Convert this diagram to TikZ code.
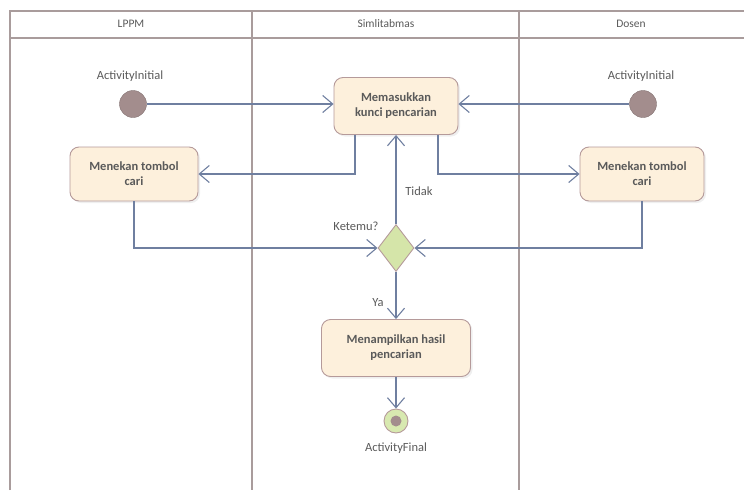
\documentclass[tikz,border=0pt]{standalone}
\usepackage{fontspec}
\setmainfont{Carlito}
\usetikzlibrary{arrows.meta,shapes.geometric,shadows}
\definecolor{lanecol}{HTML}{A99C9C}
\definecolor{flowcol}{HTML}{6F7FA0}
\definecolor{boxfill}{HTML}{FDF0DC}
\definecolor{boxline}{HTML}{B59A9A}
\definecolor{txtcol}{HTML}{5A5A5A}
\definecolor{dotfill}{HTML}{A38D8D}
\definecolor{decfill}{HTML}{D5E5A9}
\definecolor{finfill}{HTML}{D8E9B0}
\tikzset{
  lane/.style={draw=lanecol,line width=2.2pt},
  activity/.style={draw=boxline,fill=boxfill,rounded corners=9pt,line width=0.9pt,
    text=txtcol,font=\fontsize{12.5}{15}\selectfont\bfseries,align=center,
    drop shadow={shadow xshift=2pt,shadow yshift=-2pt,fill=black!12}},
  initial/.style={circle,fill=dotfill,draw=dotfill!80!black,minimum size=27pt,inner sep=0pt},
  decision/.style={diamond,draw=boxline,fill=decfill,line width=0.9pt,minimum width=36pt,minimum height=47pt,inner sep=0pt},
  final/.style={circle,draw=boxline,fill=finfill,line width=0.9pt,minimum size=24pt,inner sep=0pt},
  lbl/.style={text=txtcol,font=\fontsize{12.5}{15}\selectfont},
  head/.style={text=txtcol,font=\fontsize{11.5}{13}\selectfont},
  flow/.style={draw=flowcol,line width=1.2pt,-{Straight Barb[length=10pt,width=17pt,line width=1.1pt]}}
}
\begin{document}
\begin{tikzpicture}[x=1pt,y=-1pt]
  \useasboundingbox (0,0) rectangle (744,490);
  \draw[lane] (10,490) -- (10,11) -- (744,11) (10,38) -- (744,38)
    (252,11) -- (252,490) (519,11) -- (519,490);
  \node[head] (h1) at (131,24) {LPPM};
  \node[head] (h2) at (386,24) {Simlitabmas};
  \node[head] (h3) at (631,24) {Dosen};

  \node[initial] (ini1) at (133,104) {};
  \node[lbl] (inil1) at (130,76) {ActivityInitial};
  \node[initial] (ini2) at (643,104) {};
  \node[lbl] (inil2) at (641,76) {ActivityInitial};
  \node[activity,minimum width=124pt,minimum height=57pt] (cari) at (396,106) {Memasukkan\\kunci pencarian};
  \node[activity,minimum width=128pt,minimum height=54pt] (tombol1) at (134,174) {Menekan tombol\\cari};
  \node[activity,minimum width=124pt,minimum height=54pt] (tombol2) at (642,174) {Menekan tombol\\cari};
  \node[decision] (ketemu) at (396,248) {};
  \node[lbl] (ketemul) at (356,226) {Ketemu?};
  \node[activity,minimum width=149pt,minimum height=57pt] (hasil) at (396,348) {Menampilkan hasil\\pencarian};
  \node[final] (fin) at (396,421) {};
  \fill[dotfill] (fin) circle (5.5pt);
  \node[lbl] (finl) at (396,448) {ActivityFinal};

  \begin{scope}[flow]
    \draw (ini1.east) -- (ini1.east -| cari.west);
    \draw (ini2.west) -- (ini2.west -| cari.east);
    \draw ([xshift=-41pt]cari.south) |- (tombol1.east);
    \draw ([xshift=42pt]cari.south) |- (tombol2.west);
    \draw (tombol1.south) |- (ketemu.west);
    \draw (tombol2.south) |- (ketemu.east);
    \draw (ketemu.north) -- (cari.south);
    \draw (ketemu.south) -- (hasil.north);
    \draw (hasil.south) -- (fin.north);
  \end{scope}
  \node[lbl] (tidak) at (419,191) {Tidak};
  \node[lbl] (ya) at (378,303) {Ya};
\end{tikzpicture}
\end{document}
